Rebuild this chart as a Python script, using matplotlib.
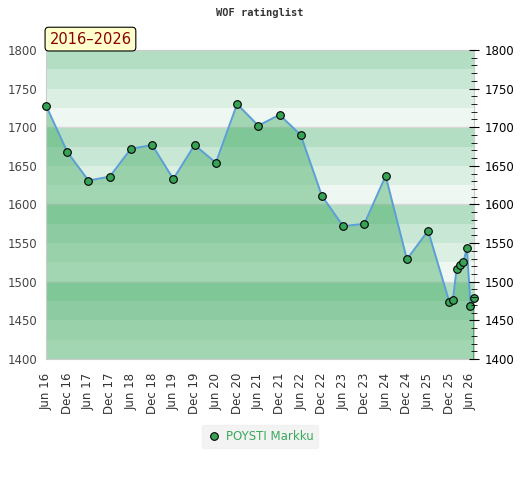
import pandas as pd
import matplotlib
matplotlib.use("Agg")
import matplotlib.pyplot as plt
import matplotlib.dates as mdates
from matplotlib.ticker import MultipleLocator
import numpy as np

# --- Data ---
dates = ["2016-06", "2016-12", "2017-06", "2017-12", "2018-06", "2018-12",
         "2019-06", "2019-12", "2020-06", "2020-12", "2021-06", "2021-12",
         "2022-06", "2022-12", "2023-06", "2023-12", "2024-06", "2024-12",
         "2025-06", "2025-12", "2026-01", "2026-02", "2026-03", "2026-04",
         "2026-05", "2026-06", "2026-07"]
ratings = [1728, 1668, 1631, 1636, 1672, 1677, 1633, 1677, 1654, 1730,
           1702, 1716, 1690, 1611, 1572, 1575, 1637, 1529, 1566, 1474,
           1477, 1516, 1522, 1525, 1544, 1469, 1479]
player = "POYSTI Markku"
period = "2016–2026"
y_min, y_max = 1400, 1800

x = pd.to_datetime(dates)

# --- Figure setup ---
fig = plt.figure(figsize=(5.2, 4.8), dpi=100)
ax = fig.add_axes([0.0885, 0.252, 0.823, 0.644])
ax.set_xlim(x[0], x[-1])
ax.set_ylim(y_min, y_max)

# background bands, 4 shades per 100 points
band_cols = ["#b3dec4", "#c9e7d5", "#dcefe3", "#eef7f1"]
for top in range(y_max, y_min, -25):
    i = ((y_max - top) // 25) % 4
    ax.axhspan(top - 25, top, color=band_cols[i], lw=0, zorder=0)
for yy in range(y_min + 100, y_max, 100):
    ax.axhline(yy, color="#d8d8d8", lw=1, zorder=0.5)

# rating area + line
ax.fill_between(x, ratings, y_min, color="#3aa85c", alpha=0.42, lw=0, zorder=1)
ax.vlines([x[0], x[-1]], y_min, [ratings[0], ratings[-1]], color="#3a9d58", lw=1.2, zorder=2)
ax.plot(x, ratings, color="#5b9fd6", lw=1.4, zorder=3)
ax.plot(x, ratings, "o", color="#36a356", mec="black", mew=0.8, ms=5.5,
        zorder=4, clip_on=False, label=player)

# axes styling
for s in ax.spines.values():
    s.set_color("#cccccc")
ax.xaxis.set_major_locator(mdates.MonthLocator(bymonth=[6, 12]))
ax.xaxis.set_major_formatter(mdates.DateFormatter("%b %y"))
ax.tick_params(axis="x", length=0, labelsize=8.5, labelrotation=90, labelcolor="#333333", pad=10)
ax.yaxis.set_major_locator(MultipleLocator(50))
ax.tick_params(axis="y", length=0, labelsize=8.5, labelcolor="#444444", pad=6)

ax2 = ax.twinx()
ax2.set_ylim(y_min, y_max)
ax2.yaxis.set_major_locator(MultipleLocator(50))
ax2.yaxis.set_minor_locator(MultipleLocator(10))
ax2.tick_params(axis="y", which="major", direction="inout", length=7, labelsize=8.5, pad=4)
ax2.tick_params(axis="y", which="minor", direction="inout", length=5)
for s in ax2.spines.values():
    s.set_visible(False)

# title + period box
fig.text(0.5, 0.972, "WOF ratinglist", ha="center", va="center",
         family="DejaVu Sans Mono", weight="bold", fontsize=7.5, color="#333333")
ax.text(0.008, 1.035, period, transform=ax.transAxes, ha="left", va="center",
        fontsize=10.5, color="#8b0000",
        bbox=dict(boxstyle="round,pad=0.3,rounding_size=0.25", fc="#ffffcc", ec="black", lw=0.8))

# legend
leg = fig.legend(loc="center", bbox_to_anchor=(0.5, 0.091), frameon=True, fontsize=8.5,
                 handletextpad=0.4, borderpad=0.4, handlelength=1.2)
leg.get_frame().set_facecolor("#f0f0f0")
leg.get_frame().set_edgecolor("#f0f0f0")
for t in leg.get_texts():
    t.set_color("#3aaa5c")

fig.savefig("out.png", dpi=100)
